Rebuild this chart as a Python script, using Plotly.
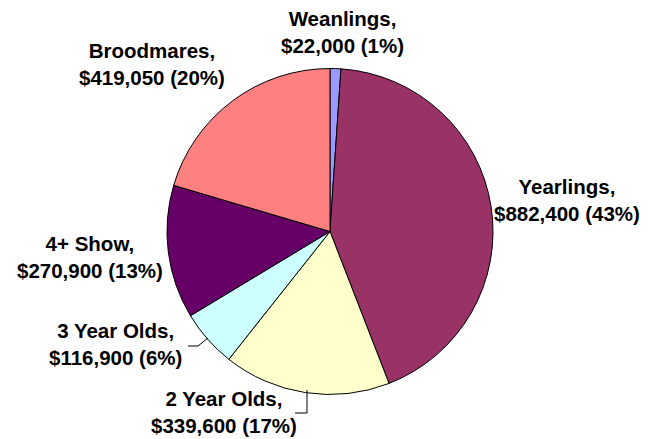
import plotly.graph_objects as go

# Sales by category
categories = ["Weanlings", "Yearlings", "2 Year Olds", "3 Year Olds", "4+ Show", "Broodmares"]
values = [22000, 882400, 339600, 116900, 270900, 419050]
colors = ["#9999FF", "#993366", "#FFFFCC", "#CCFFFF", "#660066", "#FF8080"]

W, H = 648, 439

# label centres in pixels (layout only)
label_pos = [(342, 32), (567, 200), (224, 412), (115, 344), (90, 257), (152, 64)]

total = sum(values)

fig = go.Figure()
fig.add_trace(go.Pie(
    labels=categories, values=values, sort=False, direction="clockwise", rotation=0,
    marker=dict(colors=colors, line=dict(color="black", width=1)),
    textinfo="none", hoverinfo="label+value+percent", showlegend=False,
    domain=dict(x=[167 / W, 493 / W], y=[(H - 395) / H, (H - 68) / H]),
))

def px(x, y):
    return x / W, 1 - y / H

for cat, val, (lx, ly) in zip(categories, values, label_pos):
    x, y = px(lx, ly)
    fig.add_annotation(
        x=x, y=y, xref="paper", yref="paper", xanchor="center", yanchor="middle",
        text="<b>%s,<br>$%s (%d%%)</b>" % (cat, format(val, ","), round(100 * val / total)),
        showarrow=False, align="center",
        font=dict(family="Liberation Sans, Arial", size=20.5, color="black"),
    )

# leader lines
leaders = [
    [(295, 413), (307, 413), (307, 390)],
    [(188, 346), (198, 346), (208, 338)],
]
for pts in leaders:
    path = "M " + " L ".join("%f,%f" % px(*p) for p in pts)
    fig.add_shape(type="path", path=path, xref="paper", yref="paper",
                  line=dict(color="black", width=1))

fig.update_layout(
    width=W, height=H, margin=dict(l=0, r=0, t=0, b=0),
    paper_bgcolor="white", plot_bgcolor="white",
)
fig.write_html("out.html", config={"displayModeBar": False},
               post_script="document.body.style.margin='0';document.body.style.overflow='hidden';")
